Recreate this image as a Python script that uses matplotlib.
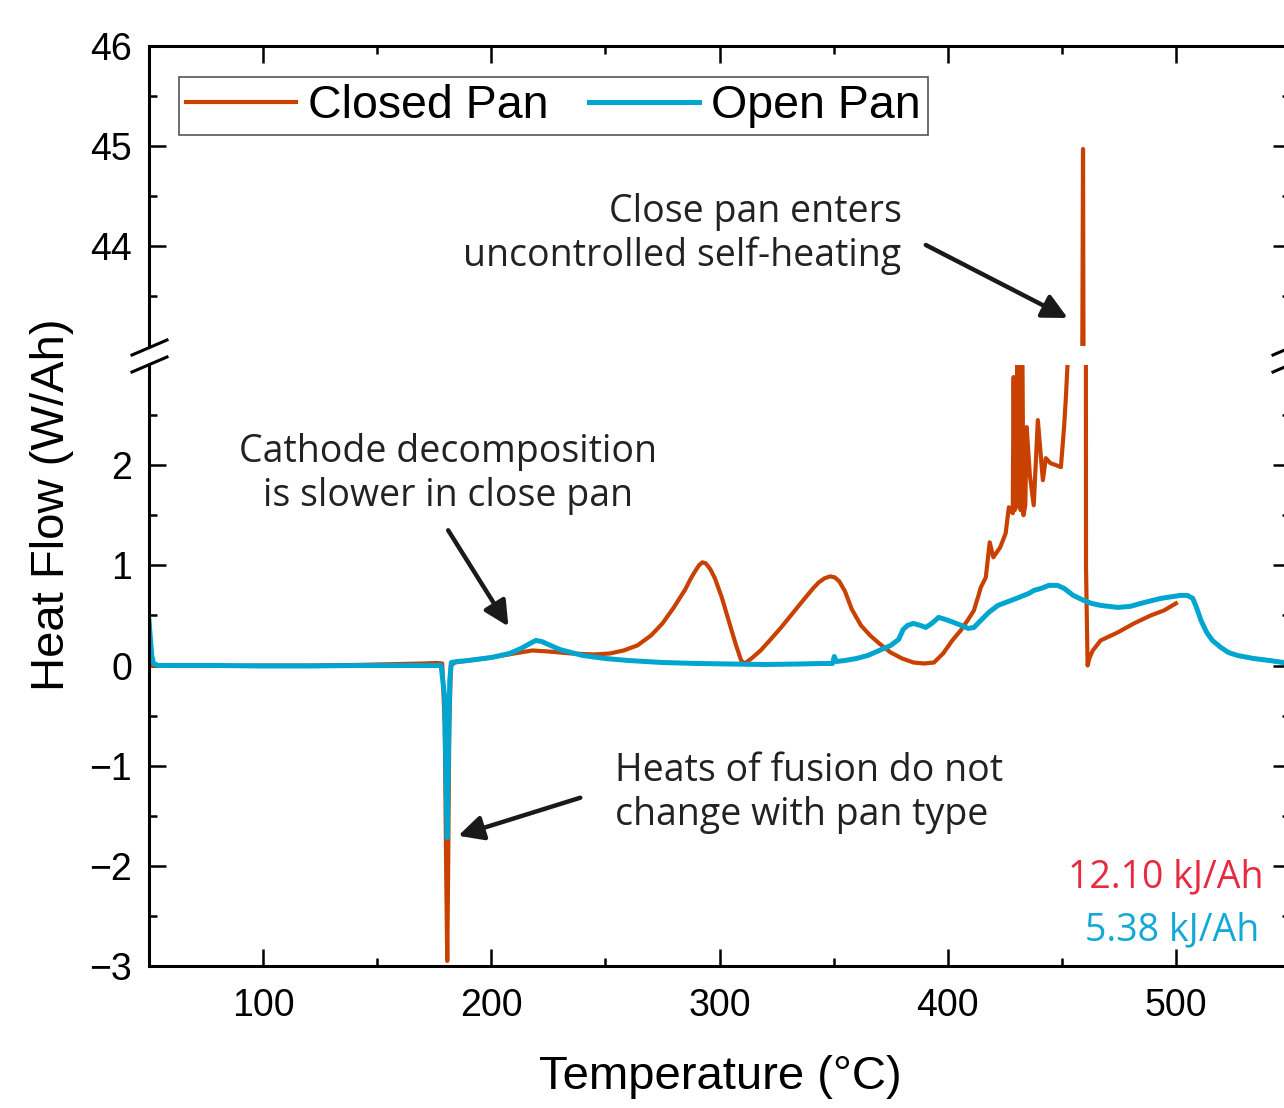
import matplotlib
matplotlib.use("Agg")
import matplotlib.pyplot as plt
from matplotlib.lines import Line2D

# DSC heat flow, closed vs open pan
closed_t = [50, 60, 80, 100, 120, 140, 160, 170, 176, 178.5,
            179.6, 180.3, 180.7, 181.1, 181.6, 182.3, 184, 190, 200, 210,
            218, 225, 235, 245, 252, 258, 264, 270, 275, 280,
            285, 287, 289, 291, 292.5, 294, 296, 298, 301, 304,
            307, 309.5, 311, 314, 318, 322, 327, 332, 337, 341,
            343.5, 346, 348.5, 350.5, 352.5, 355, 358, 362, 366, 370,
            375, 380, 385, 389.5, 394, 398, 402, 405.7, 409, 411.5,
            413.5, 414.5, 416.7, 418.4, 420, 423, 425.4, 426.8, 428.5, 428.9,
            429.3, 430.3, 430.6, 431.0, 432.0, 432.6, 433.2, 434.0, 434.6, 436,
            437.7, 439.5, 441.7, 443, 445, 447.5, 449.6, 451, 451.8, 452.6,
            453.2, 459.3, 459.8, 460.6, 461.3, 462.2, 463.6, 467, 474.5, 481.6,
            489, 494.8, 500]
closed_hf = [0.0, -0.005, -0.005, 0.0, 0.0, 0.005, 0.015, 0.02, 0.025, 0.02,
             -0.6, -2.2, -2.95, -2.0, -0.6, 0.0, 0.03, 0.05, 0.08, 0.12,
             0.15, 0.14, 0.12, 0.11, 0.12, 0.15, 0.2, 0.3, 0.42, 0.58,
             0.76, 0.85, 0.93, 1.0, 1.03, 1.02, 0.96, 0.87, 0.68, 0.45,
             0.22, 0.05, 0.02, 0.07, 0.15, 0.25, 0.38, 0.52, 0.66, 0.77,
             0.83, 0.87, 0.89, 0.88, 0.84, 0.74, 0.56, 0.4, 0.3, 0.22,
             0.13, 0.07, 0.03, 0.02, 0.03, 0.12, 0.25, 0.35, 0.46, 0.55,
             0.7, 0.78, 0.88, 1.23, 1.08, 1.18, 1.32, 1.58, 1.52, 2.88,
             1.55, 1.6, 3.6, 1.7, 1.55, 3.6, 1.5, 1.6, 2.38, 1.9,
             1.6, 2.45, 1.85, 2.07, 2.02, 2.0, 1.98, 2.38, 2.68, 3.05,
             5.0, 44.97, 40.0, 1.0, 0.0, 0.08, 0.15, 0.25, 0.33, 0.42,
             0.5, 0.55, 0.62]

open_t = [50, 50.5, 51.2, 52, 54, 60, 80, 100, 120, 140,
          160, 175, 178, 179.5, 180.2, 180.7, 181.2, 181.8, 182.5, 185,
          190, 200, 208, 213, 217, 219.5, 222, 226, 230, 235,
          240, 250, 260, 275, 290, 305, 320, 335, 345, 349.5,
          350.3, 351.2, 355, 360, 365, 370, 375, 378.5, 380.5, 382.4,
          385, 388, 390.4, 393, 396, 399, 402.6, 406, 409, 411.5,
          414.5, 418, 422, 429, 435.6, 437.8, 441, 444.3, 448, 451,
          455, 459.6, 463, 467, 474.5, 480, 484.6, 493.4, 502, 505,
          507.4, 509, 511, 513.5, 516, 519.7, 523, 527, 534, 541,
          550]
open_hf = [0.45, 0.3, 0.1, 0.02, 0.0, 0.0, 0.0, -0.005, -0.005, 0.0,
           0.0, 0.0, 0.0, -0.3, -1.2, -1.72, -0.9, -0.15, 0.03, 0.04,
           0.05, 0.08, 0.12, 0.17, 0.22, 0.25, 0.24, 0.2, 0.16, 0.13,
           0.1, 0.07, 0.05, 0.03, 0.02, 0.015, 0.01, 0.015, 0.02, 0.02,
           0.09, 0.04, 0.05, 0.07, 0.1, 0.15, 0.2, 0.26, 0.36, 0.4,
           0.42, 0.4, 0.38, 0.42, 0.48, 0.46, 0.43, 0.4, 0.37, 0.38,
           0.45, 0.53, 0.6, 0.66, 0.72, 0.75, 0.77, 0.8, 0.8, 0.77,
           0.7, 0.65, 0.62, 0.6, 0.58, 0.59, 0.62, 0.67, 0.7, 0.7,
           0.67, 0.58, 0.45, 0.33, 0.25, 0.18, 0.13, 0.1, 0.07, 0.05,
           0.02]

x_ticks = [100, 200, 300, 400, 500]
y_ticks_low = [-3, -2, -1, 0, 1, 2]
y_ticks_high = [44, 45, 46]

ORANGE = '#C94100'
BLUE = '#00A6CF'
SANS = ['Liberation Sans', 'DejaVu Sans']
NOTE = ['Open Sans', 'DejaVu Sans']

W, H = 1284, 1108
fig = plt.figure(figsize=(W / 100, H / 100), dpi=100)


def px_rect(l, t, r, b):
    return [l / W, 1 - b / H, (r - l) / W, (b - t) / H]


ax_top = fig.add_axes(px_rect(149, 46, 1290, 346))
ax_bot = fig.add_axes(px_rect(149, 365, 1290, 966))

for ax in (ax_top, ax_bot):
    ax.plot(closed_t, closed_hf, color=ORANGE, lw=3.0, label='Closed Pan',
            solid_joinstyle='round')
    ax.plot(open_t, open_hf, color=BLUE, lw=3.6, label='Open Pan',
            solid_joinstyle='round')
    ax.set_xlim(50, 550)
    ax.set_xticks(x_ticks)
    ax.set_xticks(range(50, 551, 50), minor=True)
    for s in ax.spines.values():
        s.set_linewidth(2.2)
    ax.tick_params(which='both', direction='in', width=1.8,
                   left=True, right=True, labelsize=27, pad=12)
    ax.tick_params(which='major', length=12)
    ax.tick_params(which='minor', length=6)
    for lab in ax.get_xticklabels() + ax.get_yticklabels():
        lab.set_family(SANS)

ax_top.set_ylim(43, 46)
ax_top.set_yticks(y_ticks_high)
ax_top.set_yticks([43.5, 44.5, 45.5], minor=True)
ax_top.spines['bottom'].set_visible(False)
ax_top.tick_params(axis='x', which='both', bottom=False, top=True,
                   labelbottom=False)

ax_bot.set_ylim(-3, 3)
ax_bot.set_yticks(y_ticks_low)
ax_bot.set_yticks([-2.5, -1.5, -0.5, 0.5, 1.5, 2.5], minor=True)
ax_bot.spines['top'].set_visible(False)
ax_bot.tick_params(axis='x', which='both', bottom=True, top=False)
ax_bot.tick_params(axis='x', pad=16)

# break marks on the y axis
for xc in (149, 1290):
    for yc in (348, 365):
        fig.add_artist(Line2D([(xc - 17) / W, (xc + 18) / W],
                              [1 - (yc + 7) / H, 1 - (yc - 8) / H],
                              color='black', lw=2.2))

fig.text(52 / W, 1 - 505 / H, 'Heat Flow (W/Ah)', rotation=90,
         ha='center', va='center', fontsize=34, family=SANS)
fig.text(720 / W, 1 - 1077 / H, 'Temperature (°C)', ha='center',
         va='center', fontsize=34, family=SANS)

leg = fig.legend(*ax_top.get_legend_handles_labels(), loc='upper left',
                 bbox_to_anchor=(179 / W, 1 - 77 / H), ncol=2,
                 borderaxespad=0, fancybox=False, framealpha=1,
                 edgecolor='#555555', handlelength=2.37, handletextpad=0.26,
                 columnspacing=0.86, borderpad=0.15,
                 prop={'family': SANS, 'size': 33.5})
leg.get_frame().set_linewidth(1.2)

arrow = dict(arrowstyle='-|>,head_length=0.6,head_width=0.3',
             color='#1a1a1a', lw=3.2, mutation_scale=25,
             shrinkA=0, shrinkB=0)

ax_bot.text(181, 1.91, 'Cathode decomposition\nis slower in close pan',
            ha='center', va='center', fontsize=27, family=NOTE,
            color='#222222', linespacing=1.2)
ax_bot.annotate('', xy=(207.5, 0.39), xytext=(181.1, 1.35),
                arrowprops=arrow)

ax_bot.text(254.4, -1.27, 'Heats of fusion do not\nchange with pan type',
            ha='left', va='center', fontsize=27, family=NOTE,
            color='#222222', linespacing=1.2)
ax_bot.annotate('', xy=(185.5, -1.70), xytext=(239, -1.32),
                arrowprops=arrow)

ax_top.text(379.8, 44.12, 'Close pan enters\nuncontrolled self-heating',
            ha='right', va='center', fontsize=27, family=NOTE,
            color='#222222', linespacing=1.2, multialignment='right')
ax_top.annotate('', xy=(452.6, 43.28), xytext=(390.4, 44.01),
                arrowprops=arrow, annotation_clip=False)

ax_bot.text(538.2, -2.12, '12.10 kJ/Ah', ha='right', va='center',
            fontsize=27, family=NOTE, color='#E8293F')
ax_bot.text(536.5, -2.64, '5.38 kJ/Ah', ha='right', va='center',
            fontsize=27, family=NOTE, color='#14A8D8')

fig.savefig('out.png', dpi=100)
